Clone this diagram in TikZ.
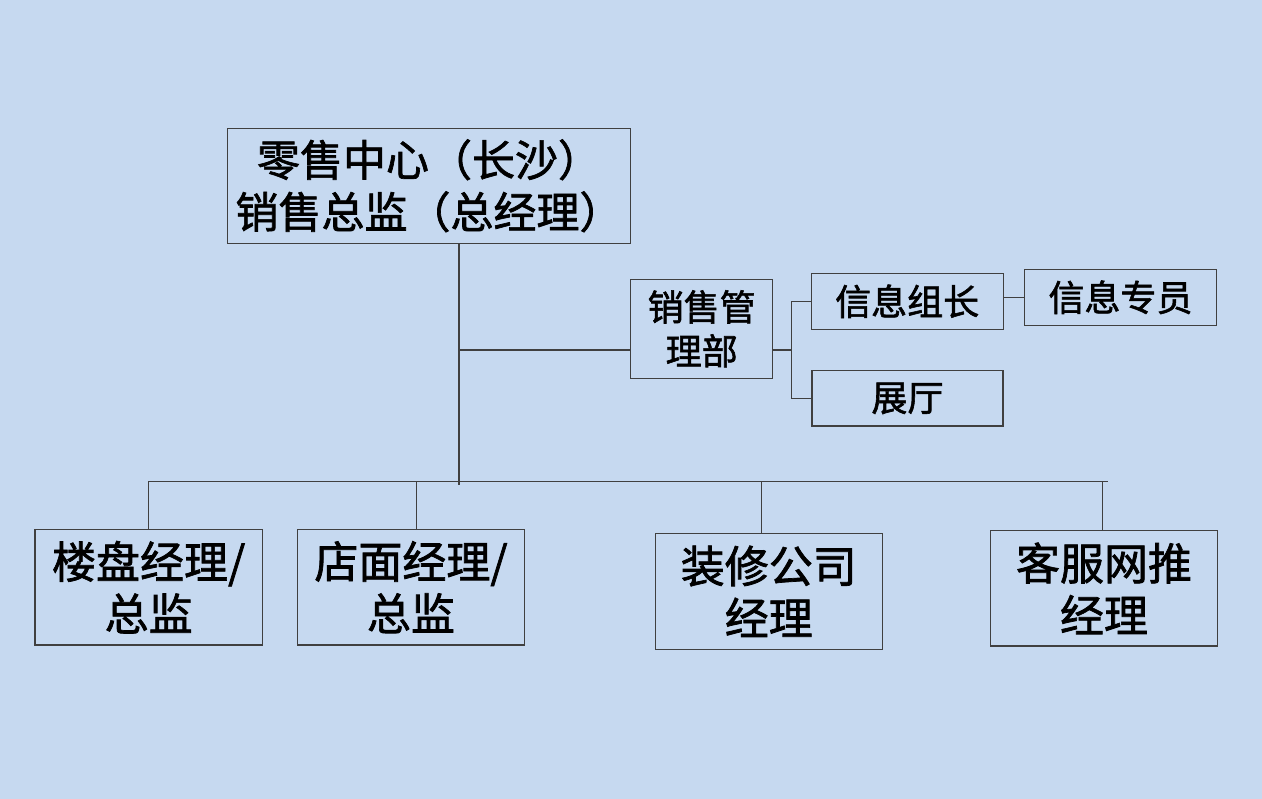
\documentclass[tikz,border=0pt]{standalone}
\usepackage{fontspec}
\newfontfamily\cjk{Noto Sans CJK SC}[FakeBold=1.6]
\definecolor{bg}{HTML}{C6D9F0}
\definecolor{ln}{HTML}{404040}
\begin{document}
\begin{tikzpicture}[x=1pt,y=-1pt,
  box/.style={draw=ln, line width=1.3pt, fill=bg, inner sep=0pt, outer sep=0pt, align=center},
  conn/.style={draw=ln, line width=1.3pt},
  topfont/.style={font=\cjk\fontsize{43}{52}\selectfont},
  midfont/.style={font=\cjk\fontsize{36}{44}\selectfont},
  botfont/.style={font=\cjk\fontsize{44}{52}\selectfont}]
\fill[bg] (0,0) rectangle (1262,799);
\useasboundingbox (0,0) rectangle (1262,799);

% boxes
\node[box, topfont, minimum width=403.4pt, minimum height=115pt] (top) at (429,185.8) {零售中心（长沙）\\销售总监（总经理）};
\node[box, midfont, minimum width=142pt, minimum height=99pt] (mgmt) at (701.7,328.8) {销售管\\理部};
\node[box, midfont, minimum width=192pt, minimum height=56pt] (info) at (907.2,301.3) {信息组长};
\node[box, midfont, minimum width=192.4pt, minimum height=56pt] (spec) at (1120.5,297.3) {信息专员};
\node[box, midfont, minimum width=191pt, minimum height=55.3pt] (hall) at (907.5,398.3) {展厅};
\node[box, botfont, minimum width=227.3pt, minimum height=115.7pt] (loupan) at (148.7,587.2) {楼盘经理/\\总监};
\node[box, botfont, minimum width=226.6pt, minimum height=115.7pt] (store) at (411,587.2) {店面经理/\\总监};
\node[box, botfont, minimum width=227pt, minimum height=116pt] (deco) at (768.8,591.3) {装修公司\\经理};
\node[box, botfont, minimum width=226.6pt, minimum height=115.3pt] (kefu) at (1104,588.4) {客服网推\\经理};

% connector points
\coordinate (trunkend) at (459,485);
\coordinate (b1) at (459,350);
\coordinate (j) at (791.7,350);
\coordinate (busL) at (148.3,481.5);
\coordinate (busR) at (1107.7,481.5);
\coordinate (d2) at (416.7,481.5);
\coordinate (d3) at (761.3,481.5);
\coordinate (d4) at (1102.7,481.5);

% connectors
\draw[conn] (top.south -| trunkend) -- (trunkend);
\draw[conn] (b1) -- (b1 -| mgmt.west);
\draw[conn] (mgmt.east |- j) -- (j);
\draw[conn] (info.west) -| (j) |- (hall.west);
\draw[conn] (info.east |- spec.west) -- (spec.west);
\draw[conn] (busL) -- (busR);
\draw[conn] (busL) -- (busL |- loupan.north);
\draw[conn] (d2) -- (d2 |- store.north);
\draw[conn] (d3) -- (d3 |- deco.north);
\draw[conn] (d4) -- (d4 |- kefu.north);
\end{tikzpicture}
\end{document}
